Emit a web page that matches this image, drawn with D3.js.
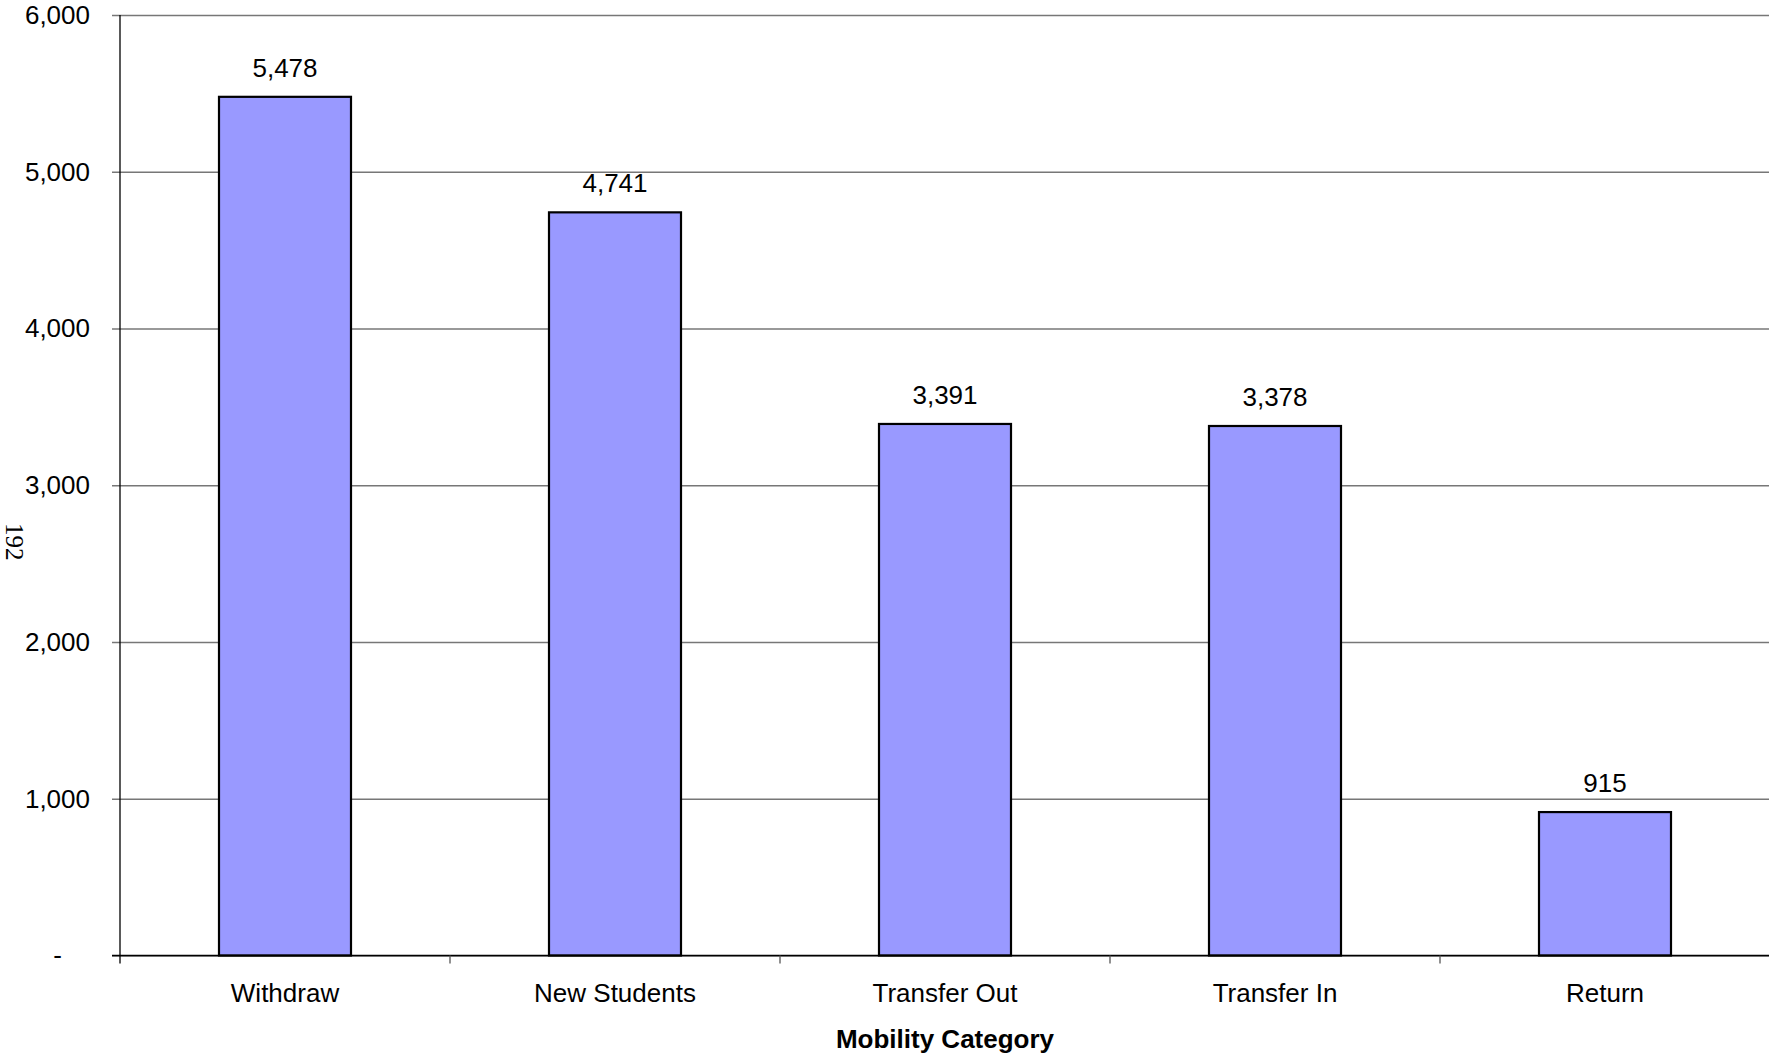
<!DOCTYPE html>
<html>
<head>
<meta charset="utf-8">
<script src="https://cdn.jsdelivr.net/npm/d3@7"></script>
<style>
  body { margin: 0; background: #fff; }
  svg { display: block; font-family: "Liberation Sans", Arial, sans-serif; }
</style>
</head>
<body>
<svg></svg>
<script>
/* data */
let categories = ["Withdraw", "New Students", "Transfer Out", "Transfer In", "Return"];
let counts = [5478, 4741, 3391, 3378, 915];
let yTicks = [0, 1000, 2000, 3000, 4000, 5000, 6000];
let xTitle = "Mobility Category";
let pageNumber = "192";

/* basic setup */
let svgWidth = 1769;
let svgHeight = 1054;
let plotLeft = 120, plotRight = 1770, plotTop = 15, plotBottom = 955.5;

const svg = d3.select("svg")
    .attr("width", svgWidth)
    .attr("height", svgHeight);

const x = d3.scaleBand()
    .domain(categories)
    .range([plotLeft, plotRight])
    .padding(0);

const y = d3.scaleLinear()
    .domain([0, 6000])
    .range([plotBottom, plotTop]);

const fmt = d3.format(",");
let barWidth = x.bandwidth() * 0.4;

// gridlines
const grid = svg.append("g")
    .attr("transform", "translate(" + plotLeft + ",0)")
    .call(d3.axisLeft(y).tickValues(yTicks).tickSize(-(svgWidth - plotLeft)).tickFormat(""));
grid.select(".domain").remove();
grid.selectAll(".tick line")
    .attr("stroke", "#777")
    .attr("stroke-width", 1.6)
    .attr("x1", -8);

// bars
svg.selectAll("rect.bar")
    .data(counts)
    .enter()
    .append("rect")
    .attr("class", "bar")
    .attr("x", (d, i) => x(categories[i]) + (x.bandwidth() - barWidth) / 2)
    .attr("y", d => y(d))
    .attr("width", barWidth)
    .attr("height", d => y(0) - y(d))
    .attr("fill", "#9999ff")
    .attr("stroke", "#000")
    .attr("stroke-width", 2.2);

// value labels
svg.selectAll("text.value")
    .data(counts)
    .enter()
    .append("text")
    .attr("class", "value")
    .attr("x", (d, i) => x(categories[i]) + x.bandwidth() / 2)
    .attr("y", d => y(d) - 20)
    .attr("text-anchor", "middle")
    .attr("font-size", 26)
    .attr("fill", "#000")
    .text(d => fmt(d));

// y axis
const yAxis = svg.append("g")
    .attr("transform", "translate(" + plotLeft + ",0)")
    .call(d3.axisLeft(y).tickValues(yTicks).tickSize(8).tickPadding(22)
        .tickFormat(d => d === 0 ? "-" : fmt(d)));
yAxis.select(".domain").remove();
yAxis.selectAll(".tick line").attr("stroke", "none");
yAxis.selectAll(".tick text")
    .attr("font-size", 26)
    .attr("font-family", "Liberation Sans, Arial, sans-serif")
    .attr("fill", "#000")
    .attr("dx", d => d === 0 ? -28 : 0);
svg.append("line")
    .attr("x1", plotLeft).attr("x2", plotLeft)
    .attr("y1", plotTop).attr("y2", plotBottom + 8)
    .attr("stroke", "#000").attr("stroke-width", 1.3);

// x axis
const xAxis = svg.append("g")
    .attr("transform", "translate(0," + plotBottom + ")")
    .call(d3.axisBottom(x).tickSize(0).tickPadding(28));
xAxis.select(".domain").remove();
xAxis.selectAll(".tick text")
    .attr("font-size", 26)
    .attr("font-family", "Liberation Sans, Arial, sans-serif")
    .attr("fill", "#000");
svg.append("line")
    .attr("x1", plotLeft - 8).attr("x2", svgWidth)
    .attr("y1", plotBottom).attr("y2", plotBottom)
    .attr("stroke", "#000").attr("stroke-width", 1.6);

// boundary ticks between categories
svg.selectAll("line.xtick")
    .data(categories.slice(1))
    .enter()
    .append("line")
    .attr("class", "xtick")
    .attr("x1", d => x(d)).attr("x2", d => x(d))
    .attr("y1", plotBottom).attr("y2", plotBottom + 8)
    .attr("stroke", "#555").attr("stroke-width", 1.3);

// axis title
svg.append("text")
    .attr("x", (plotLeft + plotRight) / 2)
    .attr("y", 1048)
    .attr("text-anchor", "middle")
    .attr("font-size", 26)
    .attr("font-weight", "bold")
    .text(xTitle);

// page number on the side
svg.append("text")
    .attr("transform", "translate(6,523) rotate(90)")
    .attr("font-family", "Liberation Serif, Times New Roman, serif")
    .attr("font-size", 25)
    .text(pageNumber);
</script>
</body>
</html>
